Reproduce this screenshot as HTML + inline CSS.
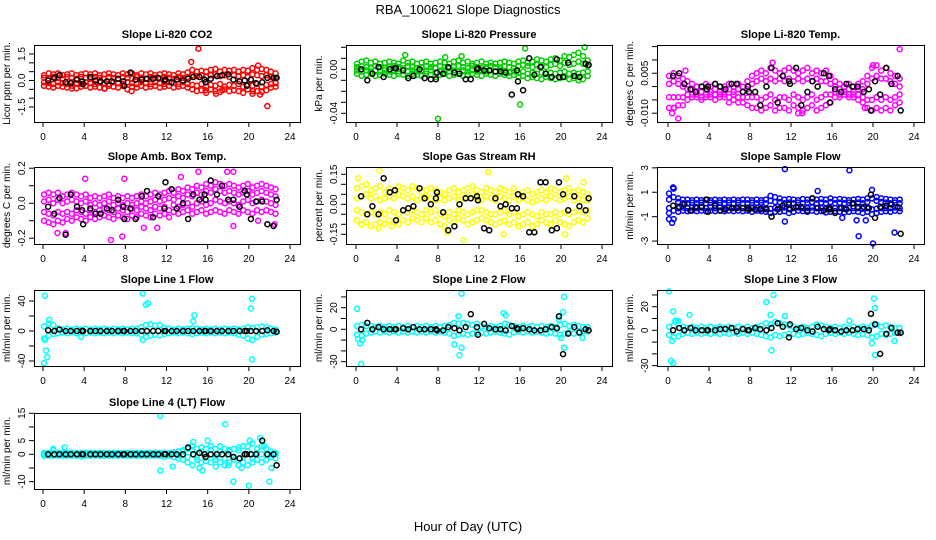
<!DOCTYPE html>
<html><head><meta charset="utf-8">
<style>
html,body{margin:0;padding:0;background:#fff;}
svg{display:block;font-family:"Liberation Sans",Arial,sans-serif;}
</style></head>
<body>
<svg id="chart" width="936" height="540" viewBox="0 0 936 540">
<text x="468" y="14" text-anchor="middle" font-size="13">RBA_100621  Slope Diagnostics</text>
<text x="468" y="531" text-anchor="middle" font-size="13">Hour of Day (UTC)</text>
</svg>
<script>
const H=[0.1,0.55,1.0,1.45,1.9,2.35,2.8,3.25,3.7,4.15,4.6,5.05,5.5,5.95,6.4,6.85,7.3,7.75,8.2,8.65,9.1,9.55,10.0,10.45,10.9,11.35,11.8,12.25,12.7,13.15,13.6,14.05,14.5,14.95,15.4,15.85,16.3,16.75,17.2,17.65,18.1,18.55,19.0,19.45,19.9,20.35,20.8,21.25,21.7,22.15,22.6];
const BX=[0.5,1.1,1.6,2.2,2.7,3.3,3.8,3.9,4.6,5.1,5.6,6.2,6.7,7.3,7.8,7.9,8.5,9.0,9.6,10.1,10.7,11.2,11.8,11.9,12.5,13.0,13.6,14.1,14.6,15.2,15.7,15.8,16.3,16.9,17.4,18.0,18.5,19.1,19.6,19.8,20.2,20.7,21.3,21.8,22.4,22.7];
const xTicks=[0,4,8,12,16,20,24];

const co2Hi=[0.3,0.4,0.35,0.4,0.3,0.35,0.4,0.3,0.35,0.4,0.35,0.4,0.3,0.35,0.4,0.35,0.3,0.4,0.35,0.4,0.3,0.4,0.35,0.4,0.3,0.35,0.4,0.35,0.3,0.4,0.35,0.45,0.6,0.5,0.55,0.5,0.6,0.65,0.5,0.6,0.55,0.6,0.5,0.6,0.55,0.7,0.6,0.65,0.6,0.5,0.4];
const co2MidA=[0.15,0.1,0.2,0.15,0.1,0.2,0.15,0.1,0.2,0.15,0.1,0.2,0.15,0.1,0.2,0.15,0.1,0.2,0.15,0.1,0.2,0.15,0.1,0.2,0.15,0.1,0.2,0.15,0.1,0.2,0.15,0.2,0.3,0.25,0.3,0.2,0.3,0.35,0.25,0.3,0.2,0.3,0.25,0.3,0.2,0.35,0.3,0.25,0.3,0.2,0.15];
const co2MidB=[-0.1,-0.15,-0.2,-0.1,-0.15,-0.2,-0.1,-0.15,-0.2,-0.1,-0.15,-0.2,-0.1,-0.15,-0.2,-0.1,-0.15,-0.2,-0.1,-0.15,-0.2,-0.1,-0.15,-0.2,-0.1,-0.15,-0.2,-0.1,-0.15,-0.2,-0.1,-0.2,-0.25,-0.3,-0.2,-0.35,-0.25,-0.3,-0.2,-0.35,-0.25,-0.3,-0.2,-0.35,-0.25,-0.3,-0.2,-0.35,-0.25,-0.2,-0.15];
const co2Lo=[-0.3,-0.35,-0.4,-0.3,-0.35,-0.4,-0.3,-0.45,-0.35,-0.3,-0.4,-0.35,-0.4,-0.45,-0.3,-0.35,-0.4,-0.3,-0.5,-0.35,-0.4,-0.3,-0.4,-0.35,-0.3,-0.4,-0.35,-0.3,-0.4,-0.35,-0.3,-0.4,-0.5,-0.6,-0.55,-0.7,-0.5,-0.6,-0.65,-0.5,-0.6,-0.55,-0.6,-0.7,-0.5,-0.75,-0.6,-0.65,-0.55,-0.4,-0.35];
const co2Out=[[15.1,1.8],[14.4,1.05],[20.9,0.85],[21.1,-0.8],[21.8,-1.45],[16.8,-0.75],[17.4,-0.55],[8.6,-0.6],[15.8,-0.55],[20.4,-0.6],[2.8,-0.45],[6.0,-0.45]];
const co2Black=[0.0,0.15,0.3,-0.1,-0.15,0.05,-0.05,-0.2,0.2,0.0,-0.05,-0.05,-0.05,0.1,-0.05,-0.3,0.45,0.05,0.05,0.1,0.1,0.15,0.0,0.05,-0.1,0.05,0.0,0.1,0.2,0.2,0.05,-0.1,0.1,0.25,0.3,0.35,0.05,-0.05,0.0,-0.3,0.05,-0.15,-0.1,0.15,0.15,0.15];

const presHi=[0.005,0.007,0.008,0.006,0.007,0.005,0.006,0.007,0.006,0.005,0.008,0.006,0.007,0.005,0.006,0.007,0.005,0.006,0.007,0.006,0.005,0.007,0.008,0.006,0.007,0.005,0.006,0.007,0.005,0.006,0.005,0.006,0.007,0.006,0.005,0.007,0.008,0.006,0.007,0.009,0.008,0.007,0.009,0.01,0.008,0.012,0.011,0.013,0.015,0.012,0.008];
const presMidA=[0.002,0.003,0.002,0.001,0.003,0.002,0.001,0.002,0.003,0.002,0.001,0.003,0.002,0.001,0.002,0.003,0.002,0.001,0.003,0.002,0.001,0.002,0.003,0.002,0.001,0.003,0.002,0.001,0.002,0.003,0.002,0.001,0.003,0.002,0.001,0.003,0.004,0.003,0.002,0.004,0.003,0.002,0.004,0.005,0.003,0.006,0.004,0.005,0.007,0.005,0.003];
const presMidB=[-0.001,-0.002,-0.001,-0.002,-0.001,-0.002,-0.001,-0.002,-0.001,-0.002,-0.001,-0.002,-0.001,-0.002,-0.001,-0.002,-0.001,-0.003,-0.002,-0.001,-0.002,-0.001,-0.002,-0.001,-0.002,-0.001,-0.002,-0.001,-0.002,-0.001,-0.002,-0.001,-0.002,-0.003,-0.002,-0.003,-0.002,-0.004,-0.003,-0.004,-0.003,-0.004,-0.003,-0.004,-0.003,-0.002,-0.004,-0.003,-0.004,-0.003,-0.002];
const presLo=[-0.004,-0.006,-0.005,-0.004,-0.006,-0.005,-0.004,-0.005,-0.006,-0.004,-0.005,-0.006,-0.004,-0.005,-0.006,-0.004,-0.005,-0.007,-0.005,-0.004,-0.006,-0.005,-0.004,-0.006,-0.005,-0.004,-0.005,-0.006,-0.004,-0.005,-0.006,-0.004,-0.005,-0.006,-0.005,-0.007,-0.006,-0.008,-0.007,-0.008,-0.009,-0.007,-0.008,-0.009,-0.008,-0.007,-0.009,-0.008,-0.01,-0.009,-0.006];
const presOut=[[8.0,-0.045],[16.0,-0.032],[16.5,0.019],[22.3,0.02],[4.8,0.013],[10.3,0.012],[8.7,0.011]];
const presBlack=[0.0,-0.01,-0.004,0.002,-0.007,0.0,0.001,0.001,-0.001,-0.008,-0.006,0.0,-0.008,-0.009,-0.009,-0.003,-0.004,0.002,-0.003,-0.004,-0.009,-0.009,0.0,0.001,-0.001,-0.001,-0.002,-0.002,-0.003,-0.023,-0.001,-0.011,-0.019,0.010,-0.005,0.002,-0.004,-0.007,0.009,-0.007,-0.007,0.006,-0.006,-0.007,0.005,0.004];

const tempHi=[0.004,0.005,0.004,0.003,0.002,0.001,0.0,0.0,0.001,0.0,0.001,0.0,0.0,0.001,0.0,0.001,0.0,0.002,0.004,0.005,0.006,0.005,0.007,0.006,0.005,0.006,0.007,0.006,0.005,0.006,0.007,0.005,0.006,0.005,0.006,0.004,0.002,0.001,0.0,0.001,0.0,0.001,0.002,0.004,0.007,0.008,0.006,0.007,0.005,0.004,0.003];
const tempMidA=[0.001,0.002,0.001,0.0,-0.001,-0.001,-0.002,-0.002,-0.001,-0.002,-0.001,-0.002,-0.002,-0.001,-0.002,-0.001,-0.002,-0.001,0.001,0.002,0.003,0.002,0.003,0.002,0.003,0.002,0.003,0.002,0.003,0.002,0.003,0.002,0.003,0.002,0.002,0.001,0.0,-0.001,-0.002,-0.001,-0.002,-0.001,-0.001,0.001,0.003,0.004,0.003,0.003,0.002,0.001,0.0];
const tempMidB=[-0.004,-0.004,-0.004,-0.004,-0.003,-0.003,-0.003,-0.004,-0.003,-0.003,-0.003,-0.003,-0.003,-0.004,-0.003,-0.004,-0.004,-0.004,-0.004,-0.004,-0.005,-0.004,-0.003,-0.005,-0.004,-0.004,-0.005,-0.003,-0.004,-0.005,-0.004,-0.003,-0.005,-0.004,-0.003,-0.003,-0.002,-0.003,-0.002,-0.003,-0.003,-0.003,-0.004,-0.005,-0.005,-0.004,-0.005,-0.004,-0.005,-0.004,-0.003];
const tempLo=[-0.008,-0.008,-0.007,-0.007,-0.005,-0.004,-0.004,-0.005,-0.004,-0.004,-0.005,-0.004,-0.004,-0.006,-0.005,-0.006,-0.006,-0.007,-0.008,-0.008,-0.009,-0.008,-0.007,-0.009,-0.008,-0.008,-0.009,-0.007,-0.008,-0.009,-0.008,-0.007,-0.009,-0.008,-0.007,-0.006,-0.004,-0.004,-0.003,-0.004,-0.004,-0.005,-0.006,-0.008,-0.009,-0.008,-0.009,-0.008,-0.009,-0.007,-0.006];
const tempOut=[[0.4,-0.010],[0.6,-0.008],[1.0,-0.012],[10.2,0.009],[12.7,-0.010],[13.1,-0.010],[22.6,0.014],[1.7,0.006],[19.2,-0.008],[20.0,0.008]];
const tempBlack=[0.004,0.005,0.001,-0.001,-0.002,0.0,-0.001,0.0,0.001,0.0,-0.001,0.001,0.001,-0.002,0.0,-0.002,-0.002,-0.007,0.0,0.007,-0.006,0.004,0.002,0.001,0.007,-0.007,-0.002,0.002,0.0,0.005,0.004,-0.006,-0.001,-0.002,0.001,0.0,0.0,-0.002,-0.001,-0.009,0.002,-0.003,0.007,0.001,0.004,-0.009];

const ambHi=[0.05,0.06,0.05,0.06,0.04,0.05,0.06,0.05,0.04,0.05,0.03,0.04,0.03,0.04,0.05,0.03,0.04,0.03,0.04,0.03,0.04,0.05,0.04,0.05,0.06,0.05,0.06,0.07,0.06,0.08,0.07,0.09,0.08,0.1,0.09,0.11,0.1,0.12,0.11,0.1,0.11,0.1,0.09,0.1,0.11,0.09,0.1,0.11,0.1,0.09,0.08];
const ambMidA=[0.01,0.02,0.0,0.02,0.0,0.01,0.02,0.01,0.0,0.01,-0.01,0.0,-0.01,0.0,0.01,-0.01,0.0,-0.01,0.0,-0.01,0.0,0.01,0.0,0.01,0.02,0.01,0.02,0.03,0.02,0.04,0.03,0.05,0.04,0.06,0.05,0.07,0.06,0.08,0.07,0.06,0.07,0.06,0.05,0.06,0.07,0.05,0.06,0.07,0.06,0.05,0.04];
const ambMidB=[-0.05,-0.06,-0.07,-0.05,-0.06,-0.05,-0.06,-0.04,-0.05,-0.06,-0.04,-0.05,-0.04,-0.03,-0.04,-0.05,-0.03,-0.04,-0.05,-0.03,-0.04,-0.02,-0.03,-0.04,-0.02,-0.03,-0.02,-0.04,-0.01,-0.02,-0.01,0.0,-0.02,0.0,0.01,-0.01,0.0,0.02,0.01,0.0,0.01,0.0,-0.01,0.01,0.02,0.0,0.01,0.02,0.01,0.0,-0.01];
const ambLo=[-0.1,-0.11,-0.12,-0.1,-0.11,-0.09,-0.1,-0.08,-0.09,-0.1,-0.08,-0.09,-0.08,-0.07,-0.08,-0.09,-0.07,-0.08,-0.09,-0.07,-0.08,-0.06,-0.07,-0.08,-0.06,-0.07,-0.06,-0.08,-0.05,-0.06,-0.05,-0.04,-0.06,-0.05,-0.04,-0.06,-0.05,-0.04,-0.05,-0.06,-0.04,-0.05,-0.06,-0.04,-0.05,-0.06,-0.04,-0.05,-0.04,-0.05,-0.06];
const ambOut=[[1.4,-0.17],[2.2,-0.17],[4.1,0.14],[7.9,0.14],[6.6,-0.21],[7.7,-0.19],[9.8,-0.14],[11.1,-0.14],[15.1,0.18],[17.9,0.18],[18.5,0.18],[13.4,0.15],[18.5,-0.13],[20.9,-0.1],[22.5,-0.12]];
const ambBlack=[-0.02,-0.06,0.03,-0.18,0.05,-0.02,-0.04,-0.12,-0.03,-0.06,-0.06,-0.03,-0.04,0.02,-0.02,-0.09,-0.03,-0.09,0.04,0.07,-0.08,0.04,-0.03,0.12,0.08,-0.03,0.0,-0.09,0.05,0.02,0.05,0.02,0.13,0.05,0.1,0.02,0.02,-0.02,0.07,0.05,-0.09,0.01,0.01,-0.12,-0.13,0.02];

const rhHi=[0.08,0.09,0.1,0.07,0.08,0.09,0.06,0.08,0.07,0.09,0.08,0.07,0.09,0.08,0.06,0.07,0.08,0.07,0.06,0.05,0.07,0.08,0.06,0.07,0.08,0.09,0.07,0.06,0.08,0.07,0.06,0.08,0.07,0.06,0.08,0.05,0.06,0.07,0.05,0.06,0.07,0.06,0.08,0.07,0.06,0.07,0.08,0.06,0.07,0.06,0.05];
const rhMidA=[0.03,0.04,0.05,0.03,0.04,0.02,0.03,0.04,0.03,0.05,0.04,0.03,0.04,0.02,0.03,0.04,0.03,0.02,0.03,0.02,0.03,0.04,0.02,0.03,0.04,0.05,0.03,0.02,0.04,0.03,0.02,0.04,0.03,0.02,0.04,0.02,0.03,0.02,0.01,0.02,0.03,0.02,0.04,0.03,0.02,0.03,0.04,0.02,0.03,0.02,0.02];
const rhMidB=[-0.03,-0.04,-0.05,-0.04,-0.05,-0.04,-0.05,-0.03,-0.04,-0.05,-0.03,-0.04,-0.03,-0.04,-0.05,-0.03,-0.04,-0.03,-0.05,-0.06,-0.04,-0.05,-0.03,-0.04,-0.05,-0.04,-0.03,-0.03,-0.04,-0.05,-0.05,-0.04,-0.03,-0.05,-0.04,-0.06,-0.05,-0.04,-0.05,-0.06,-0.04,-0.05,-0.05,-0.04,-0.05,-0.04,-0.05,-0.04,-0.03,-0.04,-0.03];
const rhLo=[-0.08,-0.1,-0.09,-0.11,-0.1,-0.09,-0.1,-0.08,-0.09,-0.1,-0.08,-0.09,-0.07,-0.08,-0.09,-0.07,-0.09,-0.08,-0.1,-0.11,-0.08,-0.09,-0.07,-0.08,-0.1,-0.09,-0.08,-0.07,-0.08,-0.09,-0.1,-0.09,-0.08,-0.1,-0.09,-0.11,-0.1,-0.09,-0.11,-0.1,-0.08,-0.09,-0.1,-0.08,-0.09,-0.1,-0.11,-0.09,-0.08,-0.09,-0.07];
const rhOut=[[0.2,0.13],[2.3,0.17],[12.9,0.16],[10.5,-0.18],[8.9,-0.14],[14.4,-0.15],[20.4,-0.15],[0.5,-0.1],[2.2,-0.12],[3.5,-0.11],[22.2,0.11],[20.5,0.13]];
const rhBlack=[0.04,-0.05,-0.01,-0.05,0.13,0.06,0.07,-0.08,-0.03,-0.02,-0.01,0.08,0.03,0.0,0.03,0.06,-0.04,-0.13,-0.11,0.0,0.03,0.03,0.04,0.02,-0.12,-0.13,0.03,-0.01,0.0,-0.02,-0.02,0.05,0.04,-0.14,-0.14,0.11,0.11,-0.13,-0.12,0.11,0.05,-0.03,0.04,-0.01,-0.03,0.03];

const flowHi=[0.9,1.3,0.5,0.4,0.4,0.35,0.4,0.35,0.4,0.35,0.4,0.35,0.4,0.35,0.4,0.35,0.4,0.4,0.35,0.4,0.35,0.4,0.7,0.6,0.5,0.4,0.45,0.4,0.35,0.45,0.4,0.5,0.4,0.45,0.4,0.5,0.4,0.45,0.4,0.35,0.4,0.45,0.4,0.5,1.2,0.6,0.5,0.45,0.4,0.35,0.4];
const flowMidA=[0.4,0.6,0.2,0.1,0.1,0.15,0.1,0.15,0.1,0.15,0.1,0.15,0.1,0.15,0.1,0.15,0.1,0.1,0.15,0.1,0.15,0.1,0.3,0.2,0.2,0.1,0.15,0.1,0.15,0.1,0.15,0.2,0.1,0.15,0.1,0.2,0.1,0.15,0.1,0.15,0.1,0.15,0.1,0.2,0.5,0.3,0.2,0.15,0.1,0.15,0.1];
const flowMidB=[-0.3,-0.5,-0.3,-0.25,-0.3,-0.25,-0.3,-0.25,-0.3,-0.25,-0.3,-0.25,-0.3,-0.25,-0.3,-0.25,-0.3,-0.25,-0.3,-0.25,-0.3,-0.3,-0.35,-0.3,-0.3,-0.25,-0.35,-0.3,-0.25,-0.3,-0.3,-0.25,-0.3,-0.3,-0.35,-0.3,-0.3,-0.3,-0.35,-0.3,-0.3,-0.3,-0.35,-0.3,-0.4,-0.35,-0.3,-0.3,-0.3,-0.25,-0.3];
const flowLo=[-0.7,-1.2,-0.6,-0.5,-0.55,-0.5,-0.55,-0.5,-0.55,-0.5,-0.55,-0.5,-0.55,-0.5,-0.55,-0.5,-0.55,-0.5,-0.6,-0.5,-0.55,-0.6,-0.7,-0.6,-0.6,-0.55,-0.7,-0.6,-0.5,-0.55,-0.6,-0.5,-0.6,-0.55,-0.65,-0.6,-0.55,-0.6,-0.65,-0.6,-0.55,-0.6,-0.7,-0.6,-0.8,-0.7,-0.6,-0.55,-0.6,-0.5,-0.55];
const flowOut=[[11.4,2.9],[17.7,2.8],[11.4,-1.4],[20.0,-3.2],[18.6,-2.6],[22.1,-2.3],[0.1,-1.2],[0.4,-1.5],[18.4,-1.3],[19.3,-1.3],[17.0,-1.1],[14.6,1.1],[0.5,1.4]];
const flowBlack=[-0.1,-0.2,0.0,-0.5,-0.2,-0.2,0.4,-0.6,-0.1,-0.5,-0.4,-0.3,-0.3,-0.3,-0.3,-0.4,-0.4,-0.4,-0.4,-1.0,-0.4,-0.1,0.0,-0.4,-0.2,-0.2,-0.5,0.5,-0.3,-0.5,-0.3,-0.4,-0.7,-0.3,-0.4,0.1,-0.2,-0.2,-0.3,0.8,-1.1,-0.2,-0.1,0.0,-0.2,-2.4];

const l1Hi=[6,10,8,3,2,3,2,3,2,3,2,3,2,3,2,3,2,3,2,3,3,5,8,9,7,8,4,3,2,3,2,3,4,3,2,3,2,3,2,3,2,3,2,3,5,4,5,6,5,3,2];
const l1Lo=[-10,-6,-4,-3,-2,-3,-2,-3,-8,-3,-2,-3,-2,-3,-2,-3,-2,-3,-2,-3,-3,-5,-8,-6,-5,-6,-4,-3,-2,-3,-2,-3,-4,-3,-2,-3,-2,-3,-2,-3,-2,-3,-5,-6,-10,-12,-8,-5,-4,-3,-2];
const l1Out=[[0.2,47],[0.1,-43],[0.3,-26],[0.4,-35],[0.2,-12],[0.6,15],[9.7,50],[10.2,37],[10.0,35],[20.2,30],[20.3,43],[20.3,-38],[14.7,21],[14.6,13],[9.7,-12]];
const l1Black=[1,0,2,0,0,0,0,0,0,0,0,0,0,0,0,0,0,0,0,0,0,0,0,0,0,0,0,0,0,0,0,0,0,0,0,0,0,0,0,0,0,0,0,1,0,-1];

const l2Hi=[3,4,3,3,2,3,2,3,2,3,2,3,2,3,2,3,2,3,2,3,4,6,5,6,5,4,5,3,2,3,2,3,5,4,3,2,3,2,3,2,3,2,3,2,4,5,3,4,3,2,2];
const l2Lo=[-5,-6,-4,-3,-2,-3,-2,-3,-2,-3,-2,-3,-2,-3,-2,-3,-2,-3,-2,-3,-4,-6,-5,-4,-5,-4,-3,-3,-4,-3,-2,-3,-4,-5,-3,-2,-3,-2,-3,-2,-3,-4,-3,-4,-5,-4,-3,-4,-3,-2,-2];
const l2Out=[[0.1,19],[0.5,-32],[0.2,-9],[0.4,-13],[0.6,-10],[9.6,-14],[10.1,-24],[10.3,-17],[10.3,33],[10.0,12],[14.4,15],[14.6,13],[20.3,30],[20.2,16],[20.3,-17],[20.0,-8],[22.1,-8],[19.8,9]];
const l2Black=[0,6,0,2,0,0,0,0,1,0,2,0,0,0,0,-1,-1,2,1,-1,2,14,2,-5,5,1,0,0,-1,3,1,0,1,0,-1,-1,0,2,1,12,-23,-4,2,-3,0,-1];

const l3Hi=[3,4,8,3,2,3,2,3,2,3,2,3,2,3,2,3,2,3,2,3,4,6,5,7,6,5,4,3,2,3,2,3,5,4,3,2,3,2,3,2,3,2,3,2,4,5,3,4,3,2,2];
const l3Lo=[-4,-6,-5,-3,-2,-3,-2,-3,-2,-3,-2,-3,-2,-3,-2,-3,-2,-3,-2,-3,-4,-5,-6,-4,-5,-4,-3,-3,-4,-3,-2,-3,-4,-5,-3,-2,-3,-2,-3,-2,-3,-4,-3,-4,-6,-5,-3,-4,-3,-2,-2];
const l3Out=[[0.1,33],[0.5,16],[2.1,13],[0.3,-26],[0.5,-28],[0.4,-9],[9.6,24],[10.3,30],[10.0,13],[10.1,-17],[11.4,12],[20.1,27],[20.2,19],[20.2,-21],[19.9,-11],[22.1,-9],[17.7,8],[0.7,8],[0.8,8]];
const l3Black=[0,2,0,2,0,0,0,0,0,1,1,2,-1,1,0,0,2,1,0,2,6,3,-6,5,1,2,0,-1,3,1,0,1,0,-1,0,0,1,1,0,14,5,-20,-3,2,-2,-2];

const l4Hi=[0.5,0.5,1.5,0.5,0.5,0.5,0.5,0.5,0.5,0.5,0.5,0.5,0.5,0.5,0.5,0.5,0.5,0.5,0.5,0.5,0.5,0.5,0.5,0.5,0.5,0.5,0.5,0.5,0.7,1,1.5,2,3,2,2.5,2,3,2,3,2,1.5,2,2.5,3,3,4,2,3,2,1,0.5];
const l4Mid=[0,0,0,0,0,0,0,0,0,0,0,0,0,0,0,0,0,0,0,0,0,0,0,0,0,0,0,0,0.5,-0.5,1,-1,1.5,-1,1,-1,1.5,-1,1,-1.5,1,-1,1.5,-1,1,-1.5,0.5,0,0,0,0];
const l4Lo=[-0.5,-0.5,-0.5,-0.5,-0.5,-0.5,-0.5,-0.5,-0.8,-0.5,-0.5,-0.5,-0.5,-0.5,-0.5,-0.5,-0.5,-0.5,-0.5,-0.5,-0.5,-0.5,-0.5,-0.5,-0.5,-0.5,-1,-0.5,-1,-1.5,-2,-3,-4,-2,-3,-2.5,-3,-2,-3,-4,-3,-2,-4,-3,-4,-3,-2,-3,-2,-1,-1.5];
const l4Out=[[11.4,14],[17.7,11],[11.4,-6],[12.6,-4.5],[15.2,-5],[15.5,-6],[16.8,-4.5],[18.5,-10],[20.0,-11.5],[22.0,-10],[14.6,4.5],[16.0,5],[20.1,5],[21.1,6],[21.5,3],[19.3,-5],[22.2,-5],[18.0,-4],[1.0,2],[2.1,2.5]];
const l4Black=[0,0,0,0,0,0,0,0,0,0,0,0,0,0,0,0,0,0,0,0,0,0,0,0,0,0,0,2.5,0,0.5,0,-1,0,0,0,0,-1,-1.5,0,0,0,0,5,0,0,-4];

const co2Ticks=[-1.5,-1,-0.5,0,0.5,1,1.5], co2Labels=[[-1.5,"-1.5"],[0,"0.0"],[1.5,"1.5"]];
const presTicks=[-0.04,-0.03,-0.02,-0.01,0,0.01,0.02], presLabels=[[-0.04,"-0.04"],[0,"0.00"]];
const tempTicks=[-0.01,-0.005,0,0.005,0.01,0.015], tempLabels=[[-0.01,"-0.010"],[0.005,"0.005"]];
const ambTicks=[-0.2,-0.1,0,0.1,0.2], ambLabels=[[-0.2,"-0.2"],[0,"0.0"],[0.2,"0.2"]];
const rhTicks=[-0.15,-0.1,-0.05,0,0.05,0.1,0.15], rhLabels=[[-0.15,"-0.15"],[0,"0.00"],[0.15,"0.15"]];
const flowTicks=[-3,-1,1,3], flowLabels=[[-3,"-3"],[-1,"-1"],[1,"1"],[3,"3"]];
const l1Ticks=[-40,-20,0,20,40], l1Labels=[[-40,"-40"],[0,"0"],[40,"40"]];
const l2Ticks=[-30,-20,-10,0,10,20,30], l2Labels=[[-30,"-30"],[0,"0"],[20,"20"]];
const l3Ticks=[-30,-20,-10,0,10,20,30], l3Labels=[[-30,"-30"],[0,"0"],[20,"20"]];
const l4Ticks=[-10,-5,0,5,10,15], l4Labels=[[-10,"-10"],[0,"0"],[5,"5"],[15,"15"]];

const NS="http://www.w3.org/2000/svg";
const svg=document.getElementById('chart');
function mk(tag,attrs,parent){const e=document.createElementNS(NS,tag);for(const k in attrs)e.setAttribute(k,attrs[k]);(parent||svg).appendChild(e);return e;}

const cols=[{l:34,r:300,x0:43,x24:290},{l:346,r:612,x0:356,x24:602},{l:657,r:924,x0:668,x24:914}];
const rows=[{t:45,b:122},{t:167,b:244},{t:290,b:366},{t:413,b:489}];

const panels=[
 {name:"co2",title:"Slope Li-820 CO2",ylab:"Licor ppm per min.",c:0,r:0,yt:2.01,yb:-2.35,col:"#ff0000",series:[co2Hi,co2MidA,co2MidB,co2Lo],out:co2Out,blk:co2Black,ticks:co2Ticks,labels:co2Labels},
 {name:"pressure",title:"Slope Li-820 Pressure",ylab:"kPa per min.",c:1,r:0,yt:0.0221,yb:-0.0479,col:"#00cd00",series:[presHi,presMidA,presMidB,presLo],out:presOut,blk:presBlack,ticks:presTicks,labels:presLabels},
 {name:"li820-temp",title:"Slope Li-820 Temp.",ylab:"degrees C per min.",c:2,r:0,yt:0.0156,yb:-0.0133,col:"#ff00ff",series:[tempHi,tempMidA,tempMidB,tempLo],out:tempOut,blk:tempBlack,ticks:tempTicks,labels:tempLabels},
 {name:"amb-box-temp",title:"Slope Amb. Box Temp.",ylab:"degrees C per min.",c:0,r:1,yt:0.207,yb:-0.233,col:"#ff00ff",series:[ambHi,ambMidA,ambMidB,ambLo],out:ambOut,blk:ambBlack,ticks:ambTicks,labels:ambLabels},
 {name:"gas-stream-rh",title:"Slope Gas Stream RH",ylab:"percent per min.",c:1,r:1,yt:0.1865,yb:-0.1985,col:"#ffff00",series:[rhHi,rhMidA,rhMidB,rhLo],out:rhOut,blk:rhBlack,ticks:rhTicks,labels:rhLabels},
 {name:"sample-flow",title:"Slope Sample Flow",ylab:"ml/min per min.",c:2,r:1,yt:3.07,yb:-3.24,col:"#0000ff",series:[flowHi,flowMidA,flowMidB,flowLo],out:flowOut,blk:flowBlack,ticks:flowTicks,labels:flowLabels},
 {name:"line1-flow",title:"Slope Line 1 Flow",ylab:"ml/min per min.",c:0,r:2,yt:54.7,yb:-46.7,col:"#00ffff",series:[l1Hi,l1Lo],out:l1Out,blk:l1Black,ticks:l1Ticks,labels:l1Labels},
 {name:"line2-flow",title:"Slope Line 2 Flow",ylab:"ml/min per min.",c:1,r:2,yt:36.4,yb:-34,col:"#00ffff",series:[l2Hi,l2Lo],out:l2Out,blk:l2Black,ticks:l2Ticks,labels:l2Labels},
 {name:"line3-flow",title:"Slope Line 3 Flow",ylab:"ml/min per min.",c:2,r:2,yt:34.2,yb:-30.3,col:"#00ffff",series:[l3Hi,l3Lo],out:l3Out,blk:l3Black,ticks:l3Ticks,labels:l3Labels},
 {name:"line4-flow",title:"Slope Line 4 (LT) Flow",ylab:"ml/min per min.",c:0,r:3,yt:15.1,yb:-12.7,col:"#00ffff",series:[l4Hi,l4Mid,l4Lo],out:l4Out,blk:l4Black,ticks:l4Ticks,labels:l4Labels}
];

panels.forEach(p=>{
  const C=cols[p.c],R=rows[p.r];
  const g=mk('g',{});
  
  
  const xs=v=>C.x0+(C.x24-C.x0)*v/24;
  const ys=v=>R.t+(R.b-R.t)*(p.yt-v)/(p.yt-p.yb);
  const t=mk('text',{x:(C.l+C.r)/2,y:R.t-7,'text-anchor':'middle','font-size':11,'font-weight':'bold'},g);
  t.textContent=p.title;
  
  
  const yl=mk('text',{x:0,y:0,'text-anchor':'middle','font-size':10,transform:`translate(${C.l-24},${(R.t+R.b)/2}) rotate(-90)`},g);
  yl.textContent=p.ylab;
  
  
  const pts=mk('g',{fill:'none',stroke:p.col,'stroke-width':1.5},g);
  
  
  p.series.forEach(arr=>{
    const n=Math.min(H.length,arr.length);
    for(let i=0;i<n;i++){
      const a=mk('circle',{cx:xs(H[i]),cy:ys(arr[i]),r:2.5},pts);
      
      
    }
  });
  p.out.forEach(o=>{
    const a=mk('circle',{cx:xs(o[0]),cy:ys(o[1]),r:2.5},pts);
    
    
  });
  const bg=mk('g',{fill:'none',stroke:'#000','stroke-width':1.5},g);
  
  
  const m=Math.min(BX.length,p.blk.length);
  for(let i=0;i<m;i++){
    const a=mk('circle',{cx:xs(BX[i]),cy:ys(p.blk[i]),r:2.5},bg);
    
    
  }
  const bx=mk('rect',{x:C.l+0.5,y:R.t+0.5,width:C.r-C.l,height:R.b-R.t,fill:'none',stroke:'#000','stroke-width':1},g);
  
  
  xTicks.forEach(v=>{
    mk('line',{x1:xs(v),x2:xs(v),y1:R.b,y2:R.b+5,stroke:'#000'},g);
    const tx=mk('text',{x:xs(v),y:R.b+18,'text-anchor':'middle','font-size':10},g);
    tx.textContent=v;
    
    
  });
  p.ticks.forEach(v=>{
    mk('line',{x1:C.l-5,x2:C.l,y1:ys(v),y2:ys(v),stroke:'#000'},g);
  });
  p.labels.forEach(L=>{
    const tx=mk('text',{x:0,y:0,'text-anchor':'middle','font-size':10,transform:`translate(${C.l-9},${ys(L[0])}) rotate(-90)`},g);
    tx.textContent=L[1];
    
    
  });
});
</script>
</body></html>
